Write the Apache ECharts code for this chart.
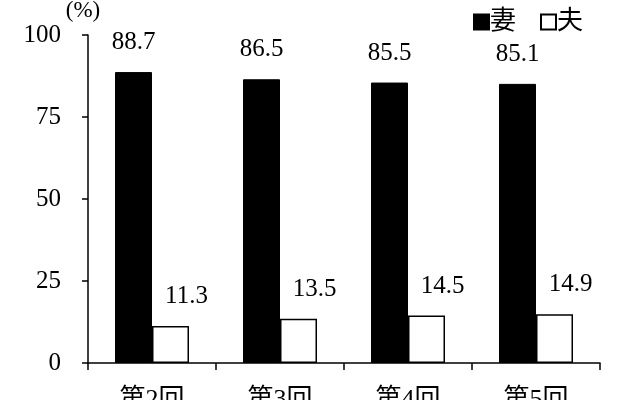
<!DOCTYPE html>
<html><head><meta charset="utf-8">
<script src="https://cdn.jsdelivr.net/npm/echarts@6/dist/echarts.min.js"></script>
<style>html,body{margin:0;padding:0;background:#fff;overflow:hidden}#c{width:640px;height:400px}</style>
</head><body><div id="c"></div>
<script>
const categories = ['第2回', '第3回', '第4回', '第5回'];
const wifeValues = [88.7, 86.5, 85.5, 85.1];
const husbandValues = [11.3, 13.5, 14.5, 14.9];
const yTicks = [0, 25, 50, 75, 100];
const seriesNames = ['妻', '夫'];
const unitLabel = '(%)';

const FONT = '"Liberation Serif", "Noto Sans CJK JP", serif';
const chart = echarts.init(document.getElementById('c'), null, {renderer: 'canvas'});
chart.setOption({
  animation: false,
  backgroundColor: '#fff',
  textStyle: {fontFamily: FONT, color: '#000'},
  grid: {left: 88, right: 40, top: 35, height: 328, containLabel: false, outerBoundsMode: 'none'},
  legend: {
    right: 52, top: 4,
    itemWidth: 15, itemHeight: 15, itemGap: 24,
    icon: 'rect',
    textStyle: {fontFamily: FONT, fontSize: 26, color: '#000', padding: [0, 0, 0, -4]},
    data: seriesNames
  },
  xAxis: {
    type: 'category',
    data: categories,
    axisLine: {lineStyle: {color: '#000', width: 1.5}},
    axisTick: {show: true, length: 7, lineStyle: {color: '#000', width: 1.5}},
    axisLabel: {fontFamily: FONT, fontSize: 26, color: '#000', margin: 24}
  },
  yAxis: {
    type: 'value',
    min: yTicks[0], max: yTicks[yTicks.length - 1], interval: 25,
    name: unitLabel,
    nameLocation: 'end',
    nameGap: 9,
    nameTextStyle: {fontFamily: FONT, fontSize: 23, color: '#000', align: 'center', padding: [0, 0, 0, -10]},
    axisLine: {show: true, lineStyle: {color: '#000', width: 1.5}},
    axisTick: {show: true, length: 6, lineStyle: {color: '#000', width: 1.5}},
    axisLabel: {fontFamily: FONT, fontSize: 25, color: '#000', margin: 27},
    splitLine: {show: false}
  },
  series: [
    {
      name: seriesNames[0], type: 'bar', data: wifeValues,
      barWidth: 37, barGap: '0%',
      itemStyle: {color: '#000', borderColor: '#000', borderWidth: 1},
      label: {show: true, position: 'top', distance: 17, fontFamily: FONT, fontSize: 25, color: '#000'}
    },
    {
      name: seriesNames[1], type: 'bar', data: husbandValues,
      barWidth: 37, barGap: '0%',
      itemStyle: {color: '#fff', borderColor: '#000', borderWidth: 1.5},
      label: {show: true, position: 'top', distance: 17, offset: [16, 0], fontFamily: FONT, fontSize: 25, color: '#000'}
    }
  ]
});
</script></body></html>
